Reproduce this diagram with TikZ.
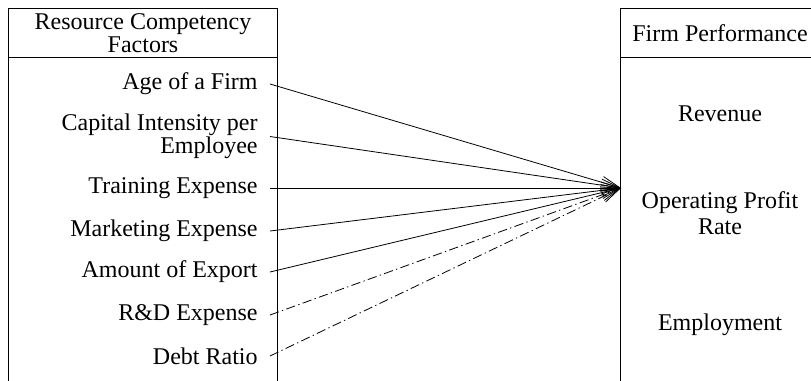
\documentclass[tikz,border=0pt]{standalone}
\usepackage{fontspec}
\setmainfont{Liberation Serif}
\usetikzlibrary{arrows.meta}

\begin{document}
\begin{tikzpicture}[x=0.75pt, y=-0.75pt, line width=0.6pt,
  font=\fontsize{18}{17.5}\selectfont,
  >={Straight Barb[length=14pt,width=9pt]},
  factor/.style={anchor=east, align=right, inner xsep=9pt, inner ysep=0pt},
  perf/.style={align=center, inner sep=0pt},
  link/.style={->},
  weak/.style={->, dash pattern=on 7pt off 2.5pt on 1pt off 2.5pt}]
\useasboundingbox (0,0) rectangle (811,380);
% frames of the two columns
\draw (8,390) -- (8,8) -- (277,8) -- (277,390);
\draw (8,57) -- (277,57);
\draw (620,390) -- (620,8) -- (820,8);
\draw (620,57) -- (820,57);
\node[perf] (rcf) at (143,33) {Resource Competency\\Factors};
\node[perf] (fp) at (720,33) {Firm Performance};
% resource competency factors
\node[factor] (age) at (270,84) {Age of a Firm};
\node[factor] (cap) at (270,136.5) {Capital Intensity per\\Employee};
\node[factor] (train) at (270,188) {Training Expense};
\node[factor] (mkt) at (270,231) {Marketing Expense};
\node[factor] (exp) at (270,272) {Amount of Export};
\node[factor] (rnd) at (270,315) {R\&D Expense};
\node[factor] (debt) at (270,356) {Debt Ratio};
% firm performance
\node[perf] (rev) at (720,114) {Revenue};
\node[perf, font=\fontsize{18}{20}\selectfont] (opr) at (720,213) {Operating Profit\\Rate};
\node[perf] (emp) at (720,325) {Employment};
\coordinate (hub) at (621,188);
% effects
\foreach \f in {age,cap,train,mkt,exp}
  \draw[link] (\f.east) -- (hub);
\foreach \f in {rnd,debt}
  \draw[weak] (\f.east) -- (hub);
\end{tikzpicture}
\end{document}
